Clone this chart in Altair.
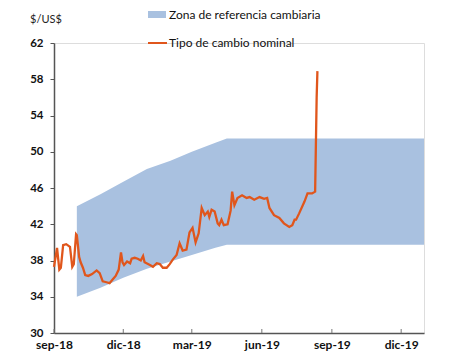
import altair as alt
import pandas as pd

# Exchange rate (ARS per USD)
fx_dates = [
    "2018-09-01", "2018-09-05", "2018-09-08", "2018-09-10", "2018-09-13", "2018-09-17",
    "2018-09-22", "2018-09-25", "2018-09-27", "2018-09-30", "2018-10-01", "2018-10-04",
    "2018-10-06", "2018-10-09", "2018-10-12", "2018-10-16", "2018-10-21", "2018-10-27",
    "2018-10-31", "2018-11-04", "2018-11-09", "2018-11-13", "2018-11-17", "2018-11-21",
    "2018-11-25", "2018-11-28", "2018-11-30", "2018-12-02", "2018-12-06", "2018-12-10",
    "2018-12-12", "2018-12-16", "2018-12-20", "2018-12-24", "2018-12-27", "2018-12-29",
    "2019-01-05", "2019-01-09", "2019-01-14", "2019-01-18", "2019-01-22", "2019-01-27",
    "2019-01-31", "2019-02-04", "2019-02-09", "2019-02-13", "2019-02-17", "2019-02-22",
    "2019-02-26", "2019-03-02", "2019-03-06", "2019-03-10", "2019-03-14", "2019-03-18",
    "2019-03-22", "2019-03-24", "2019-03-27", "2019-03-31", "2019-04-04", "2019-04-06",
    "2019-04-09", "2019-04-12", "2019-04-17", "2019-04-21", "2019-04-23", "2019-04-26",
    "2019-04-30", "2019-05-06", "2019-05-12", "2019-05-16", "2019-05-22", "2019-05-29",
    "2019-06-04", "2019-06-08", "2019-06-11", "2019-06-17", "2019-06-24", "2019-06-30",
    "2019-07-07", "2019-07-11", "2019-07-14", "2019-07-16", "2019-07-20", "2019-07-27",
    "2019-07-31", "2019-08-06", "2019-08-10", "2019-08-12", "2019-08-13",
]
fx_values = [
    37.3, 39.4, 37.0, 37.2, 39.7, 39.8,
    39.5, 37.3, 37.6, 40.9, 40.8, 38.4,
    37.8, 37.2, 36.4, 36.3, 36.5, 36.9,
    36.6, 35.7, 35.6, 35.5, 35.9, 36.3,
    37.0, 38.9, 37.8, 37.5, 37.9, 37.7,
    38.2, 38.3, 38.2, 38.0, 38.5, 37.8,
    37.5, 37.3, 37.7, 37.6, 37.2, 37.2,
    37.6, 38.1, 38.6, 39.9, 39.1, 39.2,
    41.1, 41.6, 40.0, 41.0, 43.8, 43.0,
    43.4, 42.8, 43.6, 43.4, 42.1, 41.9,
    42.5, 41.9, 42.0, 43.5, 45.6, 44.1,
    44.9, 45.2, 44.9, 45.0, 44.7, 45.0,
    44.8, 44.9, 43.8, 43.0, 42.7, 42.1,
    41.7, 41.9, 42.5, 42.5, 43.2, 44.5,
    45.4, 45.4, 45.6, 56.0, 58.9,
]

# Reference zone (band)
band_dates = ["2018-10-01", "2018-11-01", "2018-12-01", "2019-01-01", "2019-02-01",
              "2019-03-01", "2019-04-01", "2019-04-16", "2019-12-31"]
band_upper = [44.0, 45.3, 46.7, 48.1, 49.0, 50.0, 51.0, 51.45, 51.45]
band_lower = [34.0, 35.0, 36.1, 37.1, 37.9, 38.6, 39.4, 39.75, 39.75]

tick_dates = ["2018-09-01", "2018-12-01", "2019-03-01", "2019-06-01", "2019-09-01", "2019-12-01"]
y_ticks = [30, 34, 38, 42, 46, 50, 54, 58, 62]
legend_labels = ["Zona de referencia cambiaria", "Tipo de cambio nominal"]

fx = pd.DataFrame({"fecha": [d + "T00:00:00" for d in fx_dates], "tc": fx_values})
band = pd.DataFrame({"fecha": [d + "T00:00:00" for d in band_dates],
                     "sup": band_upper, "inf": band_lower})
ticks = pd.DataFrame({"fecha": [d + "T00:00:00" for d in tick_dates]})

FONT = "Lato"
BLUE = "#A9C1E0"
ORANGE = "#E0561C"

xscale = alt.Scale(domain=[alt.DateTime(year=2018, month=9, date=1),
                           alt.DateTime(year=2019, month=12, date=31)])
yscale = alt.Scale(domain=[30, 62], nice=False, zero=False)

label_expr = ("['ene','feb','mar','abr','may','jun','jul','ago','sep','oct','nov','dic']"
              "[month(datum.value)] + '-' + timeFormat(datum.value, '%y')")

xaxis = alt.Axis(
    values=[alt.DateTime(year=int(d[:4]), month=int(d[5:7]), date=1) for d in tick_dates],
    labelExpr=label_expr, title=None, grid=False, ticks=False,
    labelFont=FONT, labelFontWeight="bold", labelFontSize=12, labelColor="#111111",
    labelPadding=6, domainColor="#555555", domainWidth=1.5, labelFlush=False,
    labelOverlap=False,
)
yaxis = alt.Axis(
    values=y_ticks, title=None, grid=False, tickSize=4,
    tickColor="#555555", labelFont=FONT, labelFontWeight="bold", labelFontSize=11.5,
    labelColor="#111111", labelPadding=7, domainColor="#555555", domainWidth=1.5,
    labelOverlap=False, labelFlush=False,
)

area = alt.Chart(band).mark_area(color=BLUE, opacity=1).encode(
    x=alt.X("fecha:T", scale=xscale, axis=xaxis),
    y=alt.Y("sup:Q", scale=yscale, axis=yaxis),
    y2="inf:Q",
)

line = alt.Chart(fx).mark_line(color=ORANGE, strokeWidth=2.3).encode(
    x=alt.X("fecha:T", scale=xscale, axis=xaxis),
    y=alt.Y("tc:Q", scale=yscale, axis=yaxis),
)

tickmarks = alt.Chart(ticks).mark_rule(color="#777777", strokeWidth=1).encode(
    x=alt.X("fecha:T", scale=xscale, axis=xaxis),
    y=alt.value(286), y2=alt.value(290),
)

# Legend and unit label
leg_rect = alt.Chart(pd.DataFrame({"a": [0]})).mark_rect(color=BLUE).encode(
    x=alt.value(94), x2=alt.value(112), y=alt.value(-32), y2=alt.value(-25))
leg_line = alt.Chart(pd.DataFrame({"a": [0]})).mark_rule(color=ORANGE, strokeWidth=2).encode(
    x=alt.value(94), x2=alt.value(113), y=alt.value(0))
leg_txt = alt.Chart(pd.DataFrame({"t": legend_labels, "yy": [-28, 0]})).mark_text(
    align="left", baseline="middle", font=FONT, fontSize=12, color="#111111").encode(
    x=alt.value(115), y=alt.Y("yy:Q", scale=None), text="t:N")
unit_txt = alt.Chart(pd.DataFrame({"t": ["$/US$"]})).mark_text(
    align="center", baseline="middle", font=FONT, fontSize=11, color="#222222").encode(
    x=alt.value(-8), y=alt.value(-23), text="t:N")

chart = alt.layer(area, line, tickmarks, leg_rect, leg_line, leg_txt, unit_txt).properties(
    width=370, height=290,
    autosize=alt.AutoSizeParams(type="none"),
    padding={"left": 46, "top": 35, "right": 30, "bottom": 20},
).configure_view(stroke=None).configure(background="white").configure_axis(labelOverlap=False)

chart.save("out.html", embed_options={"renderer": "svg", "actions": False})
